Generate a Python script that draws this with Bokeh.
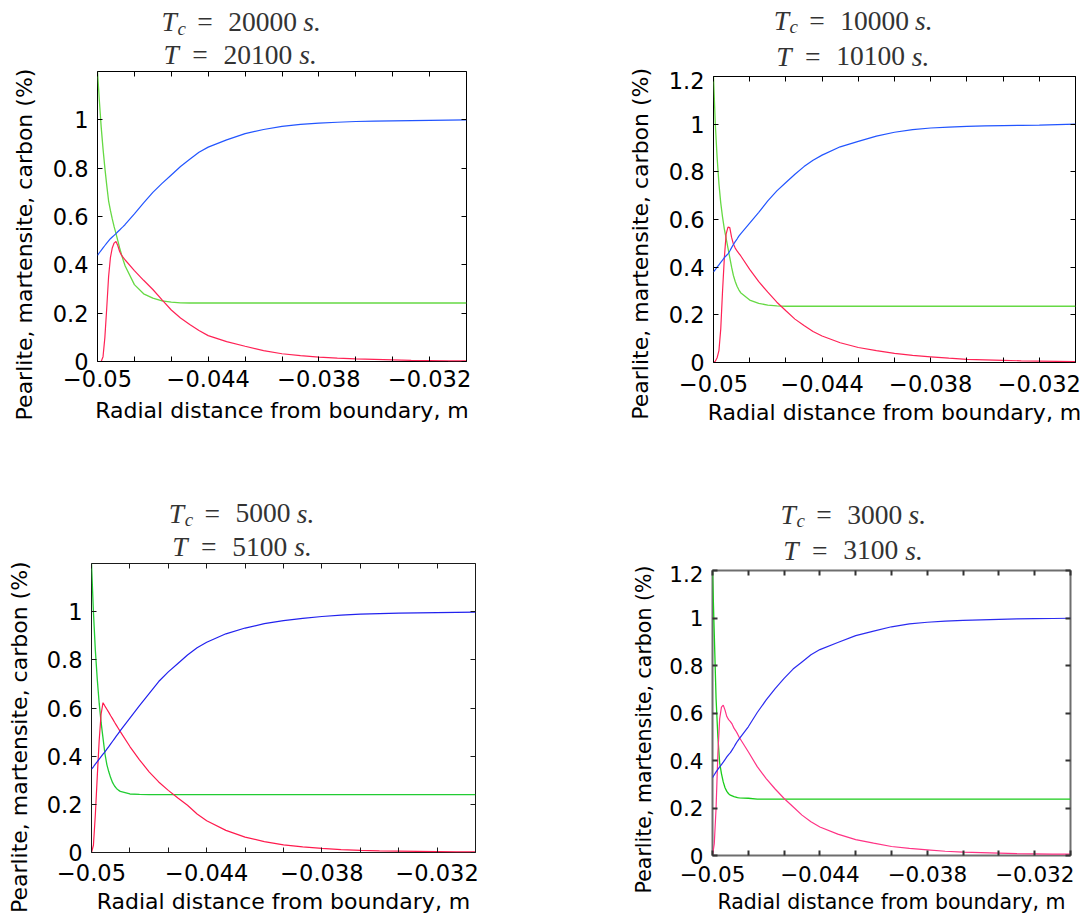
import math
from bokeh.plotting import figure
from bokeh.models import Range1d, FixedTicker, LinearAxis, Label
from bokeh.layouts import row, column
from bokeh.embed import file_html
from bokeh.resources import INLINE

# ---------------- data ----------------
X = [-0.0500, -0.0499, -0.0498, -0.0497, -0.0496, -0.0495, -0.0494, -0.0493,
     -0.0492, -0.0491, -0.0490, -0.0489, -0.0488, -0.0487, -0.0486, -0.0485,
     -0.0480, -0.0475, -0.0470, -0.0465, -0.0460, -0.0455, -0.0450, -0.0445,
     -0.0440, -0.0430, -0.0420, -0.0410, -0.0400, -0.0390, -0.0380, -0.0370,
     -0.0360, -0.0350, -0.0340, -0.0330, -0.0320, -0.0310, -0.0300]

TC_VALUES = [20000, 10000, 5000, 3000]
T_VALUES = [20100, 10100, 5100, 3100]

# Tc = 20000 s
PEARLITE_20000 = [0.439, 0.450, 0.460, 0.470, 0.480, 0.490, 0.499, 0.508, 0.515, 0.522, 0.529, 0.537, 0.544, 0.552, 0.559, 0.567,
                  0.611, 0.656, 0.700, 0.737, 0.772, 0.807, 0.837, 0.866, 0.887,
                  0.917, 0.943, 0.960, 0.973, 0.981, 0.986, 0.990, 0.993, 0.995, 0.996, 0.997, 0.998, 0.999, 1.000]
CARBON_20000 = [1.20, 1.08, 0.97, 0.88, 0.80, 0.73, 0.665, 0.625, 0.59, 0.558, 0.53, 0.50, 0.47, 0.443, 0.418, 0.395,
                0.318, 0.280, 0.262, 0.251, 0.246, 0.243, 0.242, 0.242, 0.242,
                0.242, 0.242, 0.242, 0.242, 0.242, 0.242, 0.242, 0.242, 0.242, 0.242, 0.242, 0.242, 0.242, 0.242]
MARTENSITE_20000 = [0.0, 0.0, 0.0, 0.02, 0.10, 0.22, 0.35, 0.43, 0.47, 0.49, 0.497, 0.48, 0.455, 0.44, 0.43, 0.42,
                    0.376, 0.336, 0.298, 0.255, 0.213, 0.180, 0.153, 0.128, 0.107,
                    0.082, 0.063, 0.045, 0.032, 0.024, 0.018, 0.014, 0.011, 0.009, 0.007, 0.005, 0.004, 0.003, 0.003]

# Tc = 10000 s
PEARLITE_10000 = [0.38, 0.39, 0.40, 0.41, 0.42, 0.43, 0.44, 0.448, 0.456, 0.468, 0.482, 0.495, 0.507, 0.518, 0.53, 0.54,
                  0.585, 0.63, 0.678, 0.72, 0.755, 0.79, 0.822, 0.849, 0.87,
                  0.905, 0.928, 0.95, 0.966, 0.977, 0.984, 0.988, 0.991, 0.993, 0.994, 0.995, 0.996, 0.998, 1.0]
CARBON_10000 = [1.2, 1.0, 0.86, 0.75, 0.67, 0.61, 0.56, 0.52, 0.48, 0.44, 0.40, 0.365, 0.34, 0.32, 0.305, 0.293,
                0.262, 0.248, 0.241, 0.238, 0.236, 0.236, 0.236, 0.236, 0.236,
                0.236, 0.236, 0.236, 0.236, 0.236, 0.236, 0.236, 0.236, 0.236, 0.236, 0.236, 0.236, 0.236, 0.236]
MARTENSITE_10000 = [0.0, 0.005, 0.02, 0.05, 0.14, 0.30, 0.44, 0.54, 0.568, 0.566, 0.525, 0.497, 0.48, 0.468, 0.458, 0.448,
                    0.391, 0.339, 0.295, 0.253, 0.217, 0.182, 0.155, 0.13, 0.111,
                    0.083, 0.063, 0.05, 0.038, 0.03, 0.024, 0.018, 0.013, 0.011, 0.009, 0.007, 0.006, 0.005, 0.004]

# Tc = 5000 s
PEARLITE_5000 = [0.346, 0.356, 0.367, 0.377, 0.388, 0.398, 0.408, 0.418, 0.429, 0.44, 0.451, 0.462, 0.473, 0.484, 0.495, 0.506,
                 0.558, 0.61, 0.66, 0.71, 0.75, 0.785, 0.82, 0.85, 0.873,
                 0.908, 0.932, 0.95, 0.963, 0.972, 0.98, 0.986, 0.99, 0.992, 0.994, 0.995, 0.996, 0.997, 0.998]
CARBON_5000 = [1.2, 1.0, 0.84, 0.72, 0.62, 0.54, 0.475, 0.41, 0.365, 0.335, 0.31, 0.29, 0.276, 0.266, 0.259, 0.254,
               0.243, 0.241, 0.24, 0.24, 0.24, 0.24, 0.24, 0.24, 0.24,
               0.24, 0.24, 0.24, 0.24, 0.24, 0.24, 0.24, 0.24, 0.24, 0.24, 0.24, 0.24, 0.24, 0.24]
MARTENSITE_5000 = [0.0, 0.03, 0.157, 0.315, 0.465, 0.575, 0.622, 0.608, 0.595, 0.582, 0.568, 0.555, 0.541, 0.528, 0.515, 0.502,
                   0.44, 0.385, 0.335, 0.293, 0.258, 0.226, 0.196, 0.16, 0.132,
                   0.092, 0.064, 0.045, 0.032, 0.023, 0.017, 0.012, 0.009, 0.007, 0.006, 0.005, 0.004, 0.003, 0.003]

# Tc = 3000 s
PEARLITE_3000 = [0.328, 0.34, 0.352, 0.363, 0.373, 0.383, 0.393, 0.404, 0.415, 0.425, 0.433, 0.445, 0.457, 0.47, 0.482, 0.492,
                 0.542, 0.602, 0.655, 0.703, 0.746, 0.785, 0.815, 0.845, 0.867,
                 0.897, 0.926, 0.945, 0.963, 0.975, 0.982, 0.987, 0.99, 0.992, 0.994, 0.996, 0.997, 0.998, 0.999]
CARBON_3000 = [1.2, 0.93, 0.66, 0.50, 0.39, 0.345, 0.31, 0.285, 0.27, 0.26, 0.254, 0.251, 0.248, 0.246, 0.244, 0.243,
               0.241, 0.237, 0.237, 0.237, 0.237, 0.237, 0.237, 0.237, 0.237,
               0.237, 0.237, 0.237, 0.237, 0.237, 0.237, 0.237, 0.237, 0.237, 0.237, 0.237, 0.237, 0.237, 0.237]
MARTENSITE_3000 = [0.0, 0.05, 0.2, 0.43, 0.575, 0.625, 0.633, 0.612, 0.585, 0.572, 0.564, 0.553, 0.536, 0.525, 0.512, 0.497,
                   0.437, 0.374, 0.324, 0.28, 0.24, 0.205, 0.17, 0.142, 0.12,
                   0.09, 0.067, 0.052, 0.038, 0.03, 0.024, 0.018, 0.014, 0.012, 0.01, 0.008, 0.007, 0.006, 0.006]

XTICKS = [-0.05, -0.048, -0.046, -0.044, -0.042, -0.04, -0.038, -0.036, -0.034, -0.032, -0.03]
XTICK_LABELS = ["\u22120.05", "", "", "\u22120.044", "", "", "\u22120.038", "", "", "\u22120.032", ""]
YTICKS = [0, 0.2, 0.4, 0.6, 0.8, 1, 1.2]
YTICK_LABELS = ["0", "0.2", "0.4", "0.6", "0.8", "1", "1.2"]

X_LABEL = "Radial distance from boundary, m"
Y_LABEL = "Pearlite, martensite, carbon (%)"

SERIES = [
    (PEARLITE_20000, CARBON_20000, MARTENSITE_20000),
    (PEARLITE_10000, CARBON_10000, MARTENSITE_10000),
    (PEARLITE_5000, CARBON_5000, MARTENSITE_5000),
    (PEARLITE_3000, CARBON_3000, MARTENSITE_3000),
]

# ---------------- layout / style (page pixels) ----------------
# th = title strip height, bt = plot top border
PANELS = [
    dict(ox=0, oy=0, yw=44, mw=446, th=70, ph=376, bl=53, br=24, bt=1, bb=85,
         frame="#000000", tick="#000000", fw=1,
         colors=("#2255ff", "#66d944", "#ff2255"), top_label=False,
         t1=(161, 30.5), t2=(163, 63.5), ylab=(31.5, 244),
         tick_fs="22.5px", lab_fs="22px", xstand=8, ystand=9, als=8),
    dict(ox=490, oy=0, yw=175, mw=417, th=71, ph=375, bl=47, br=7, bt=5, bb=84,
         frame="#000000", tick="#000000", fw=1,
         colors=("#2255ff", "#66d944", "#ff2255"), top_label=True,
         t1=(772.3, 29.3), t2=(775, 64.8), ylab=(648, 243.3),
         tick_fs="22.5px", lab_fs="22px", xstand=12, ystand=9, als=5),
    dict(ox=0, oy=446, yw=40, mw=450, th=116, ph=362, bl=51, br=15, bt=1, bb=72,
         frame="#1a1a1a", tick="#1a1a1a", fw=1,
         colors=("#2222ee", "#22cc33", "#ff1a4d"), top_label=False,
         t1=(168.3, 522), t2=(171.7, 555.5), ylab=(26.6, 736.7),
         tick_fs="22.5px", lab_fs="22px", xstand=11, ystand=9, als=5),
    dict(ox=490, oy=446, yw=175, mw=417, th=119, ph=359, bl=47, br=12, bt=5, bb=69,
         frame="#6e6e6e", tick="#333333", fw=2,
         colors=("#2b2bf0", "#1acc1a", "#ff3385"), top_label=True,
         t1=(780, 523.3), t2=(782.7, 559), ylab=(651, 729),
         tick_fs="21.5px", lab_fs="20.5px", xstand=10, ystand=9, als=5),
]

SERIF = "Liberation Serif"
SANS = "DejaVu Sans"
SERIF_MID = 0.3375   # (ascent - descent) / 2, in em
SANS_MID = 0.346
TITLE_COLOR = "#333333"
TITLE_FS = 27.5
SUB_FS = 19.0
DIGIT_W = TITLE_FS * 0.5


def text_fig(w, h, bl=0, br=0):
    f = figure(width=w, height=h, output_backend="svg", toolbar_location=None,
               x_range=Range1d(bl, w - br), y_range=Range1d(h, 0),
               x_axis_location=None, y_axis_location=None,
               min_border_left=bl, min_border_right=br, min_border_top=0, min_border_bottom=0,
               background_fill_color="white", border_fill_color="white")
    f.grid.visible = False
    f.outline_line_color = None
    return f


def put(f, origin, px, py, text, font, size, mid, style="normal", align="left",
        angle=0.0, color="black"):
    # (px, py) is the page position of the text baseline; anchor on the text middle
    if angle == 0.0:
        ax, ay = px - origin[0], py - origin[1] - mid * size
    else:
        ax, ay = px - origin[0] - mid * size, py - origin[1]
    f.add_layout(Label(x=ax, y=ay, text=text,
                       text_font=font, text_font_size=f"{size}px", text_font_style=style,
                       text_align=align, text_baseline="middle",
                       angle=angle, text_color=color))


def style_axis(ax, ticks, labels, color, width, fs, standoff, show):
    ax.ticker = FixedTicker(ticks=ticks)
    ax.major_label_overrides = {t: (l if show else "") for t, l in zip(ticks, labels)}
    ax.major_tick_in = 5
    ax.major_tick_out = 0
    ax.major_tick_line_color = color
    ax.major_tick_line_width = width
    ax.minor_tick_line_color = None
    ax.axis_line_color = None
    ax.major_label_text_font = SANS
    ax.major_label_text_color = "black"
    ax.major_label_text_font_size = fs if show else "0px"
    ax.major_label_standoff = int(standoff) if show else 0


def make_panel(i):
    c = PANELS[i]
    pearlite, carbon, martensite = SERIES[i]
    ox, oy = c["ox"], c["oy"]
    total_h = c["th"] + c["ph"]
    mx = ox + c["yw"]
    lab_size = float(c["lab_fs"][:-2])

    # y-axis label strip
    ylab = text_fig(c["yw"], total_h)
    put(ylab, (ox, oy), c["ylab"][0], c["ylab"][1], Y_LABEL, SANS, lab_size, SANS_MID,
        align="center", angle=math.pi / 2)

    # title strip (same side borders as the plot below it)
    title = text_fig(c["mw"], c["th"], c["bl"], c["br"])
    org = (mx, oy)
    tc = str(TC_VALUES[i])
    tx, tb = c["t1"]
    put(title, org, tx, tb, "T", SERIF, TITLE_FS, SERIF_MID, "italic", color=TITLE_COLOR)
    put(title, org, tx + 16, tb + 3.5, "c", SERIF, SUB_FS, SERIF_MID, "italic", color=TITLE_COLOR)
    put(title, org, tx + 35.7, tb, "=", SERIF, TITLE_FS, SERIF_MID, color=TITLE_COLOR)
    put(title, org, tx + 66.7, tb, tc, SERIF, TITLE_FS, SERIF_MID, color=TITLE_COLOR)
    put(title, org, tx + 66.7 + DIGIT_W * len(tc) + 6.3, tb, "s.", SERIF, TITLE_FS, SERIF_MID,
        "italic", color=TITLE_COLOR)
    t = str(T_VALUES[i])
    tx, tb = c["t2"]
    put(title, org, tx, tb, "T", SERIF, TITLE_FS, SERIF_MID, "italic", color=TITLE_COLOR)
    put(title, org, tx + 28.7, tb, "=", SERIF, TITLE_FS, SERIF_MID, color=TITLE_COLOR)
    put(title, org, tx + 60, tb, t, SERIF, TITLE_FS, SERIF_MID, color=TITLE_COLOR)
    put(title, org, tx + 60 + DIGIT_W * len(t) + 7, tb, "s.", SERIF, TITLE_FS, SERIF_MID,
        "italic", color=TITLE_COLOR)

    # plot
    p = figure(width=c["mw"], height=c["ph"], output_backend="svg", toolbar_location=None,
               x_range=Range1d(-0.05, -0.03), y_range=Range1d(0, 1.2),
               min_border_left=c["bl"], min_border_right=c["br"],
               min_border_top=c["bt"], min_border_bottom=c["bb"],
               background_fill_color="white", border_fill_color="white")
    p.grid.visible = False
    p.outline_line_color = c["frame"]
    p.outline_line_width = c["fw"]
    p.outline_line_alpha = 1.0

    yt = YTICKS if c["top_label"] else YTICKS[:-1]
    ytl = YTICK_LABELS if c["top_label"] else YTICK_LABELS[:-1]
    style_axis(p.xaxis[0], XTICKS, XTICK_LABELS, c["tick"], c["fw"], c["tick_fs"], c["xstand"], True)
    style_axis(p.yaxis[0], yt, ytl, c["tick"], c["fw"], c["tick_fs"], c["ystand"], True)
    p.xaxis[0].axis_label = X_LABEL
    p.xaxis[0].axis_label_text_font = SANS
    p.xaxis[0].axis_label_text_font_size = c["lab_fs"]
    p.xaxis[0].axis_label_text_font_style = "normal"
    p.xaxis[0].axis_label_text_color = "black"
    p.xaxis[0].axis_label_standoff = c["als"]
    top = LinearAxis()
    right = LinearAxis()
    style_axis(top, XTICKS, XTICK_LABELS, c["tick"], c["fw"], c["tick_fs"], 0, False)
    style_axis(right, yt, ytl, c["tick"], c["fw"], c["tick_fs"], 0, False)
    p.add_layout(top, "above")
    p.add_layout(right, "right")

    cb, cg, cr = c["colors"]
    p.line(X, carbon, line_color=cg, line_width=1.3)
    p.line(X, martensite, line_color=cr, line_width=1.2)
    p.line(X, pearlite, line_color=cb, line_width=1.2)

    return row(ylab, column(title, p))


panels = [make_panel(i) for i in range(4)]
layout = column(row(panels[0], panels[1]), row(panels[2], panels[3]))

open("out.html", "w").write(file_html(layout, INLINE))
